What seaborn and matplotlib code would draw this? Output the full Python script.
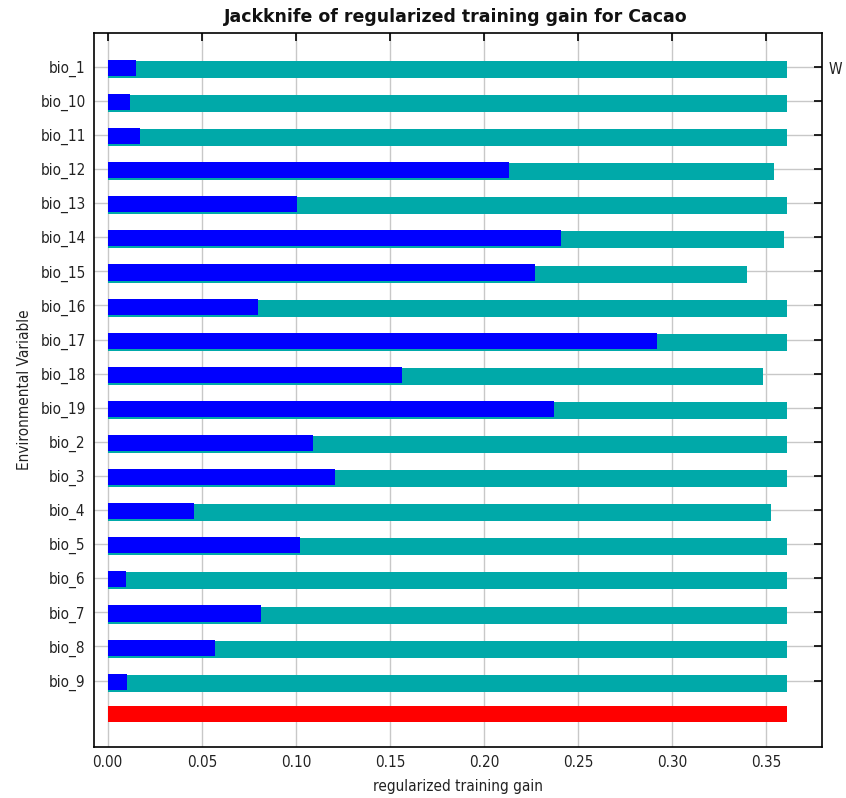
import matplotlib
matplotlib.use("Agg")
import matplotlib.pyplot as plt
import seaborn as sns
import pandas as pd

variables = ["bio_1", "bio_10", "bio_11", "bio_12", "bio_13", "bio_14", "bio_15",
             "bio_16", "bio_17", "bio_18", "bio_19", "bio_2", "bio_3", "bio_4",
             "bio_5", "bio_6", "bio_7", "bio_8", "bio_9"]
without_variable = [0.361, 0.361, 0.361, 0.354, 0.361, 0.3595, 0.3396,
                    0.361, 0.361, 0.348, 0.361, 0.361, 0.361, 0.3526,
                    0.361, 0.361, 0.361, 0.361, 0.361]
with_only_variable = [0.015, 0.012, 0.017, 0.2134, 0.1004, 0.2408, 0.2272,
                      0.080, 0.2921, 0.1563, 0.2371, 0.109, 0.121, 0.046,
                      0.102, 0.0097, 0.0815, 0.057, 0.0103]
all_label = ["With all variables"]
all_gain = [0.361]
x_ticks = [0.0, 0.05, 0.10, 0.15, 0.20, 0.25, 0.30, 0.35]

TEAL = "#00A9A9"
BLUE = "#0000FF"
RED = "#FF0000"

sns.set_style("white")
plt.rcParams["font.family"] = ["DejaVu Sans"]
plt.rcParams["font.stretch"] = "condensed"

fig = plt.figure(figsize=(8.46, 7.98), dpi=100)
ax = fig.add_axes([94 / 846, 1 - 747 / 798, (821.7 - 94) / 846, (747 - 33.3) / 798])

order = variables + all_label
df_without = pd.DataFrame({"var": variables, "gain": without_variable})
df_only = pd.DataFrame({"var": variables, "gain": with_only_variable})
df_all = pd.DataFrame({"var": all_label, "gain": all_gain})

def draw(df, color, width, shift):
    n0 = len(ax.patches)
    sns.barplot(data=df, y="var", x="gain", order=order, color=color,
                width=width, saturation=1, linewidth=0, errorbar=None, ax=ax)
    for p in ax.patches[n0:]:
        p.set_y(p.get_y() + shift)

draw(df_without, TEAL, 0.50, 0.08)
draw(df_only, BLUE, 0.47, 0.035)
draw(df_all, RED, 0.47, -0.015)

ax.set_xlim(-0.0073, 0.3794)
ax.set_ylim(19.95, -0.98)
ax.set_xticks(x_ticks)
ax.set_xticklabels([f"{v:.2f}" for v in x_ticks])
ax.set_yticks(range(len(variables)))
ax.set_yticklabels(variables)

ax.set_axisbelow(True)
ax.grid(True, color="#c8c8c8", linewidth=1)
for s in ax.spines.values():
    s.set_color("black")
    s.set_linewidth(1.2)
ax.tick_params(direction="in", top=True, right=True, length=6, width=1.2,
               labelsize=11, colors="black", labelcolor="#222222", pad=6)

ax.set_xlabel("regularized training gain", fontsize=11, color="#222222", labelpad=6)
ax.set_ylabel("Environmental Variable", fontsize=11, color="#222222", labelpad=6)
fig.text(456 / 846, 1 - 17 / 798, "Jackknife of regularized training gain for Cacao",
         ha="center", va="center", fontsize=12.5, fontweight="bold", color="#111111",
         fontstretch="normal")
fig.text(829 / 846, 1 - 70 / 798, "W", ha="left", va="center",
         fontsize=11, color="#222222")

fig.savefig("out.png", dpi=100)
